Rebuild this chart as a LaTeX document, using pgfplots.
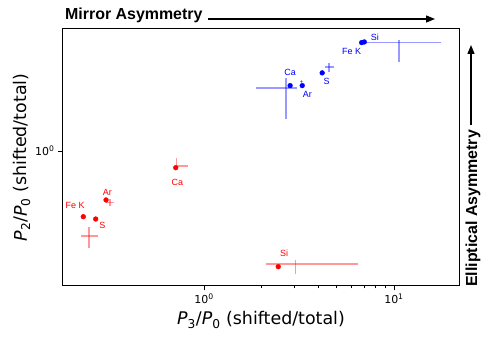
\documentclass[border=0pt]{standalone}
\usepackage{fontspec}
\setmainfont{DejaVu Sans}
\newfontfamily\hv{Liberation Sans}
\usepackage{pgfplots}
\pgfplotsset{compat=1.18}
\usetikzlibrary{arrows.meta}

\definecolor{ptblue}{RGB}{0,0,255}
\definecolor{ptred}{RGB}{255,0,0}

\pgfplotsset{
    cross/.style={line width=1.5bp, opacity=0.4, forget plot},
    dot/.style={only marks, mark=*, mark size=2.4bp},
}
\tikzset{lab/.style={font=\hv\fontsize{9}{10}\selectfont}}

\begin{document}
\begin{tikzpicture}
\begin{axis}[
    scale only axis,
    width=396bp, height=256.5bp,
    xmode=log, ymode=log,
    xmin=0.181, xmax=22.0,
    ymin=0.1356, ymax=6.12,
    xtick={1,10}, xticklabels={10\textsuperscript{0},10\textsuperscript{1}},
    ytick={1}, yticklabels={10\textsuperscript{0}},
    xtick pos=bottom, ytick pos=left,
    tick align=outside,
    major tick length=5bp, minor tick length=3bp,
    tick style={black, line width=0.8bp},
    axis line style={black, line width=1bp},
    tick label style={font=\fontsize{11}{13}\selectfont},
    clip=false,
]
% ---- blue crosses
\addplot[cross, ptblue] coordinates {(6.87,5.0) (17.7,5.0)};
\addplot[cross, ptblue] coordinates {(10.63,3.73) (10.63,5.16)};
\addplot[cross, ptblue] coordinates {(4.33,3.47) (4.83,3.47)};
\addplot[cross, ptblue] coordinates {(4.55,3.23) (4.55,3.70)};
\addplot[cross, ptblue] coordinates {(3.21,2.80) (3.33,2.80)};
\addplot[cross, ptblue] coordinates {(3.27,2.74) (3.27,2.86)};
\addplot[cross, ptblue] coordinates {(1.87,2.54) (3.07,2.54)};
\addplot[cross, ptblue] coordinates {(2.70,1.60) (2.70,2.94)};
% ---- red crosses
\addplot[cross, ptred] coordinates {(0.715,0.80) (0.827,0.80)};
\addplot[cross, ptred] coordinates {(0.718,0.76) (0.718,0.897)};
\addplot[cross, ptred] coordinates {(0.305,0.464) (0.336,0.464)};
\addplot[cross, ptred] coordinates {(0.32,0.44) (0.32,0.49)};
\addplot[cross, ptred] coordinates {(0.2244,0.283) (0.276,0.283)};
\addplot[cross, ptred] coordinates {(0.248,0.236) (0.248,0.325)};
\addplot[cross, ptred] coordinates {(2.12,0.186) (6.49,0.186)};
\addplot[cross, ptred] coordinates {(3.04,0.161) (3.04,0.198)};
% ---- points
\addplot[dot, ptblue] coordinates {(6.98,5.05) (6.76,5.0) (4.19,3.19) (3.29,2.64) (2.84,2.64)};
\addplot[dot, ptred] coordinates {(0.71,0.78) (0.305,0.483) (0.2315,0.377) (0.269,0.364) (2.46,0.1794)};
% ---- labels
\node[lab, text=ptblue] at (axis cs:7.94,5.41) {Si};
\node[lab, text=ptblue] at (axis cs:5.99,4.37) {Fe K};
\node[lab, text=ptblue] at (axis cs:2.84,3.20) {Ca};
\node[lab, text=ptblue] at (axis cs:3.50,2.33) {Ar};
\node[lab, text=ptblue] at (axis cs:4.42,2.79) {S};
\node[lab, text=ptred] at (axis cs:0.724,0.625) {Ca};
\node[lab, text=ptred] at (axis cs:0.31,0.544) {Ar};
\node[lab, text=ptred] at (axis cs:0.2095,0.442) {Fe K};
\node[lab, text=ptred] at (axis cs:0.292,0.333) {S};
\node[lab, text=ptred] at (axis cs:2.64,0.219) {Si};
\end{axis}
% axis labels
\node[font=\fontsize{17.5}{20}\selectfont] at (198bp,-34.5bp)
    {\textit{P}\textsubscript{3}/\textit{P}\textsubscript{0} (shifted/total)};
\node[font=\fontsize{17.5}{20}\selectfont, rotate=90] at (-41bp,128bp)
    {\textit{P}\textsubscript{2}/\textit{P}\textsubscript{0} (shifted/total)};
% direction annotations
\node[font=\hv\bfseries\fontsize{16}{18}\selectfont, anchor=base west, inner sep=0pt]
    at (2bp,265.5bp) {Mirror Asymmetry};
\draw[line width=1.3bp, -{Triangle[length=9bp,width=7bp]}] (145bp,266.5bp) -- (372bp,266.5bp);
\node[font=\hv\bfseries\fontsize{16}{18}\selectfont, anchor=base west, inner sep=0pt, rotate=90]
    at (414bp,-1.5bp) {Elliptical Asymmetry};
\draw[line width=1.3bp, -{Triangle[length=9bp,width=7bp]}] (408bp,160.5bp) -- (408bp,240.5bp);
\pgfresetboundingbox
\path[use as bounding box] (-63bp,-52.5bp) rectangle (427bp,285.5bp);
\end{tikzpicture}
\end{document}
